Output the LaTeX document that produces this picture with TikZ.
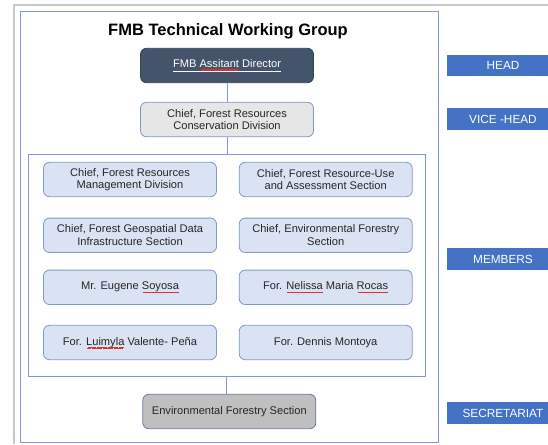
\documentclass[tikz,border=0pt]{standalone}
\usepackage{fontspec}
\setmainfont{Liberation Sans}
\usetikzlibrary{positioning}

\definecolor{headfill}{HTML}{44546A}
\definecolor{headline}{HTML}{34425A}
\definecolor{vicefill}{HTML}{E7E6E6}
\definecolor{memfill}{HTML}{DAE3F3}
\definecolor{secfill}{HTML}{BFBFBF}
\definecolor{boxline}{HTML}{7F99C8}
\definecolor{frameline}{HTML}{8299CB}
\definecolor{tagfill}{HTML}{4472C4}
\definecolor{pagegray}{HTML}{C8C8C8}
\definecolor{typored}{HTML}{E03030}

% red wavy spell-check mark
\newcommand{\typo}[1]{\setbox0\hbox{#1}\rlap{\copy0}\leaders\hbox{\textcolor{typored}{\rule[-3pt]{0.55pt}{0.35pt}\rule[-2.6pt]{0.55pt}{0.35pt}}}\hskip\wd0\relax}

\tikzset{
	box/.style={draw=boxline, line width=0.8pt, rounded corners=6pt, align=center,
		minimum width=173pt, minimum height=34.4pt, inner sep=2pt,
		font=\fontsize{11.1}{12.7}\selectfont, text=black!85},
	tag/.style={fill=tagfill, minimum width=112pt, minimum height=21.5pt, inner sep=0pt,
		text=white, font=\fontsize{11.8}{13}\selectfont},
	frame/.style={draw=frameline, line width=0.8pt},
	link/.style={draw=frameline, line width=0.8pt}
}

\begin{document}
\begin{tikzpicture}[x=1pt,y=-1pt]
		\useasboundingbox (0,0) rectangle (548,444);
		\clip (0,0) rectangle (548,444);
		%page edge
		\draw[pagegray, line width=2pt] (14,444) -- (14,5) -- (548,5);
		\draw[frame] (20.5,11) rectangle (438,442);
		
		\node (title) at (228,31) {\fontsize{16.5}{18}\selectfont\bfseries FMB Technical Working Group};
		
		%head and vice-head
		\node[box, fill=headfill, draw=headline, text=white] (head) at (227,65.5)
			{\underline{FMB \typo{Assitant} Director}};
		\node[box, fill=vicefill] (vice) at (227,119.5)
			{Chief, Forest Resources\\Conservation Division};
		
		%members
		\node[frame, minimum width=397.5pt, minimum height=222pt] (members) at (226.7,265) {};
		\node[box, fill=memfill] (frmd) at (130,179.5) {Chief, Forest Resources\\Management Division};
		\node[box, fill=memfill] (fruas) at (325.7,179.5) {Chief, Forest Resource-Use\\and Assessment Section};
		\node[box, fill=memfill] (fgdis) at (130,235.3) {Chief, Forest Geospatial Data\\Infrastructure Section};
		\node[box, fill=memfill] (efs) at (325.7,235.3) {Chief, Environmental Forestry\\Section};
		\node[box, fill=memfill] (soyosa) at (130,287.3) {Mr. Eugene \typo{Soyosa}};
		\node[box, fill=memfill] (rocas) at (325.7,287.3) {For. \typo{Nelissa} Maria \typo{Rocas}};
		\node[box, fill=memfill] (pena) at (130,342.5) {For. \typo{Luimyla} Valente- Peña};
		\node[box, fill=memfill] (montoya) at (325.7,342.5) {For. Dennis Montoya};
		
		%secretariat
		\node[box, fill=secfill, draw=boxline!80!black] (sec) at (229.3,411.5) {Environmental Forestry Section};
		
		\draw[link] (head.south) -- (vice.north);
		\draw[link] (vice.south) -- (vice.south |- members.north);
		\draw[link] (members.south) -- (members.south |- sec.north);
		
		%role tags
		\node[tag] (tghead) at (503,65.7) {HEAD};
		\node[tag] (tgvice) at (503,119) {VICE -HEAD};
		\node[tag] (tgmem) at (503,259) {MEMBERS};
		\node[tag] (tgsec) at (503,413) {SECRETARIAT};
\end{tikzpicture}
\end{document}
